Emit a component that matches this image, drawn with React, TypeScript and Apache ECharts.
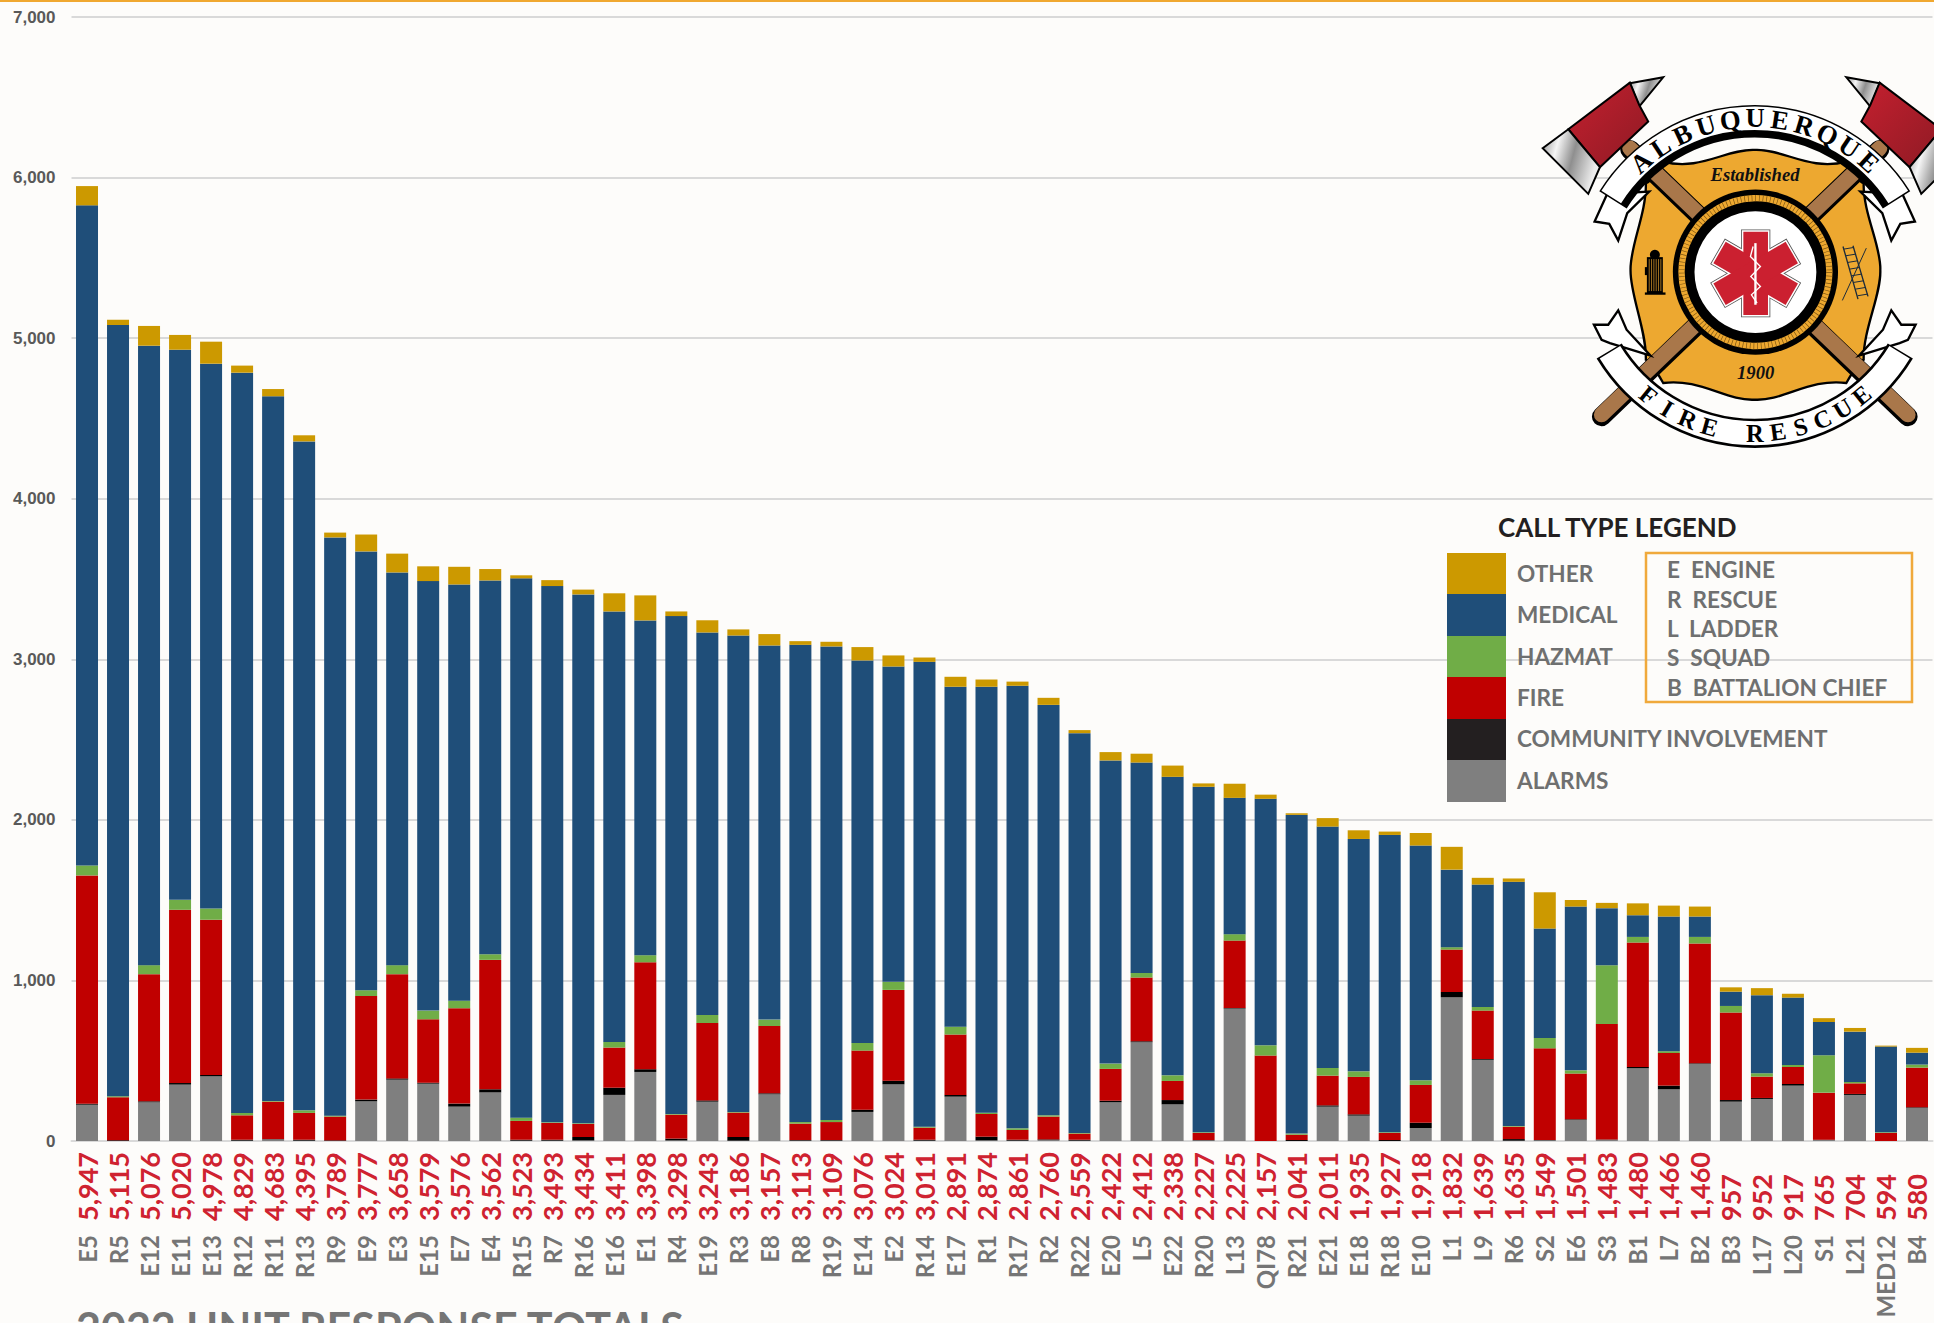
import React, { useEffect, useRef } from "react";
import * as echarts from "echarts";

const units = ["E5","R5","E12","E11","E13","R12","R11","R13","R9","E9","E3","E15","E7","E4","R15","R7","R16","E16","E1","R4","E19","R3","E8","R8","R19","E14","E2","R14","E17","R1","R17","R2","R22","E20","L5","E22","R20","L13","QI78","R21","E21","E18","R18","E10","L1","L9","R6","S2","E6","S3","B1","L7","B2","B3","L17","L20","S1","L21","MED12","B4"];
const totals = ["5,947","5,115","5,076","5,020","4,978","4,829","4,683","4,395","3,789","3,777","3,658","3,579","3,576","3,562","3,523","3,493","3,434","3,411","3,398","3,298","3,243","3,186","3,157","3,113","3,109","3,076","3,024","3,011","2,891","2,874","2,861","2,760","2,559","2,422","2,412","2,338","2,227","2,225","2,157","2,041","2,011","1,935","1,927","1,918","1,832","1,639","1,635","1,549","1,501","1,483","1,480","1,466","1,460","957","952","917","765","704","594","580"];
const alarms = [226,0,241,351,403,2,10,2,0,247,382,357,214,303,2,2,4,287,430,4,245,2,291,2,2,181,353,2,276,4,2,6,2,241,615,228,4,825,0,0,214,158,0,81,895,505,2,4,131,8,453,322,480,245,262,345,6,287,0,206];
const community = [6,4,6,10,8,6,2,6,4,11,8,6,19,19,6,6,21,45,17,11,8,23,6,4,4,14,23,6,11,23,6,4,6,10,6,27,2,4,0,6,8,8,6,33,33,5,10,2,4,2,8,23,4,10,6,10,2,6,0,4];
const fire = [1422,268,792,1079,967,152,233,167,148,645,649,395,594,806,117,104,81,250,666,149,482,152,419,102,112,368,565,75,376,141,61,142,38,198,397,119,44,419,532,33,185,233,44,235,264,302,77,571,285,719,775,203,746,545,133,106,293,66,50,247];
const hazmat = [62,6,56,62,70,15,4,16,6,36,56,54,47,35,20,4,4,35,44,4,50,4,40,10,13,48,50,6,49,8,10,8,4,33,29,35,4,40,64,7,48,35,4,29,15,23,4,65,20,365,35,11,41,41,21,13,233,9,4,19];
const medical = [4111,4804,3858,3426,3393,4610,4389,4166,3601,2733,2446,2675,2592,2328,3359,3340,3294,2681,2085,3101,2382,2967,2330,2972,2949,2382,1964,2895,2117,2653,2756,2556,2490,1888,1310,1859,2152,849,1535,1985,1503,1447,1852,1462,483,762,1521,681,1020,356,135,839,127,89,486,419,207,313,534,74];
const other = [120,33,123,92,137,44,45,38,30,105,117,92,110,71,19,37,30,113,156,29,76,38,71,23,29,83,69,27,62,45,26,44,19,52,55,70,21,88,26,10,53,54,21,78,142,42,21,226,41,33,74,68,62,27,44,24,24,23,6,30];

const callTypes = ["OTHER","MEDICAL","HAZMAT","FIRE","COMMUNITY INVOLVEMENT","ALARMS"];
const callColors = ["#CC9900","#1F4E79","#70AD47","#C00000","#231F20","#7F7F7F"];
const unitKey = ["E  ENGINE","R  RESCUE","L  LADDER","S  SQUAD","B  BATTALION CHIEF"];
const titleText = "2022 UNIT RESPONSE TOTALS";

const ORANGE = "#EDA830";
const BG = "#FDFCFA";
const deg = Math.PI / 180;
const mirror = (p: number[][]) => p.map(([x, y]) => [1410 - x, y]);
const poly = (pts: number[][], fill: any, stroke = "#000", lw = 6) => ({
  type: "polygon", shape: { points: pts }, style: { fill, stroke, lineWidth: lw },
});
const both = (pts: number[][], fill: any, stroke = "#000", lw = 6) => [poly(pts, fill, stroke, lw), poly(mirror(pts), fill, stroke, lw)];

function arcLetters(word: string, cx: number, cy: number, r: number, start: number, step: number, top: boolean, size: number) {
  return word.split("").map((ch, i) => {
    const a = start + step * i;
    return {
      type: "text",
      x: cx + r * Math.sin(a * deg),
      y: top ? cy - r * Math.cos(a * deg) : cy + r * Math.cos(a * deg),
      rotation: (top ? -a : a) * deg,
      style: {
        text: ch, align: "center", verticalAlign: "middle", textAlign: "center", textVerticalAlign: "middle",
        font: `bold ${size}px "Liberation Serif"`, fill: "#000",
      },
    };
  });
}

function buildLogo() {
  const silver = {
    type: "linear", x: 0, y: 0, x2: 1, y2: 0.3,
    colorStops: [{ offset: 0, color: "#8d8d8d" }, { offset: 0.3, color: "#f5f5f5" }, { offset: 0.6, color: "#8f8f8f" }, { offset: 1, color: "#ececec" }],
  };
  const red = { type: "linear", x: 0, y: 0, x2: 1, y2: 1, colorStops: [{ offset: 0, color: "#C4202F" }, { offset: 1, color: "#8E1A24" }] };
  const handle = (x1: number, y1: number, x2: number, y2: number) => [
    { type: "line", shape: { x1, y1: y1 + 4, x2, y2: y2 + 6 }, style: { stroke: "#000", lineWidth: 58, lineCap: "round" } },
    { type: "line", shape: { x1, y1, x2, y2 }, style: { stroke: "#A9774A", lineWidth: 46, lineCap: "round" } },
  ];
  const cx = 707, cy = 667;
  const arms = [0, 60, 120];
  const armRect = (rot: number, style: any) => ({
    type: "rect", x: cx, y: 670, rotation: rot * deg, shape: { x: -37, y: -125, width: 74, height: 250 }, style,
  });
  const ladderRungs = [0, 1, 2, 3, 4, 5, 6, 7].map((i) => ({
    type: "line",
    shape: { x1: 972 + i * 6, y1: 598 + i * 20, x2: 1002 + i * 6, y2: 593 + i * 20 },
    style: { stroke: "#1b2a3a", lineWidth: 3 },
  }));
  const hydrantBars = [0, 1, 2, 3, 4, 5].map((i) => ({
    type: "line", shape: { x1: 388 + i * 7, y1: 628, x2: 388 + i * 7, y2: 724 }, style: { stroke: ORANGE, lineWidth: 2 },
  }));
  const children: any[] = [
    { type: "shield", x: 0, y: 0, style: { fill: ORANGE, stroke: "#000", lineWidth: 7 } },
    ...handle(330, 295, 1165, 1095),
    ...handle(1080, 295, 245, 1095),
    ...both([[330, 100], [430, 82], [358, 170]], silver),
    ...both([[145, 238], [330, 98], [358, 165], [385, 215], [240, 352]], red),
    ...both([[68, 295], [145, 238], [240, 352], [205, 432]], silver),
    { type: "circle", shape: { cx, cy, r: 248 }, style: { fill: "#000" } },
    { type: "circle", shape: { cx, cy, r: 222 }, style: { fill: "none", stroke: ORANGE, lineWidth: 19 } },
    { type: "circle", shape: { cx, cy, r: 222 }, style: { fill: "none", stroke: "#7a5310", lineWidth: 19, lineDash: [2, 9] } },
    { type: "circle", shape: { cx, cy, r: 183 }, style: { fill: "#fff" } },
    ...arms.map((r) => armRect(r, { fill: "#555", stroke: "#555", lineWidth: 14 })),
    ...arms.map((r) => armRect(r, { fill: "#fff", stroke: "#fff", lineWidth: 9 })),
    ...arms.map((r) => armRect(r, { fill: "#CB2030" })),
    { type: "line", shape: { x1: 707, y1: 580, x2: 707, y2: 765 }, style: { stroke: "#fff", lineWidth: 7 } },
    { type: "polyline", shape: { points: [[700, 590], [692, 620], [722, 650], [693, 680], [722, 710], [695, 735], [712, 760]] }, style: { stroke: "#fff", lineWidth: 4, fill: "none" } },
    { type: "rect", shape: { x: 381, y: 622, width: 48, height: 108 }, style: { fill: "#000" } },
    { type: "circle", shape: { cx: 405, cy: 615, r: 15 }, style: { fill: "#000" } },
    { type: "rect", shape: { x: 375, y: 652, width: 10, height: 24 }, style: { fill: "#000" } },
    { type: "rect", shape: { x: 375, y: 728, width: 62, height: 7 }, style: { fill: "#000" } },
    ...hydrantBars,
    { type: "line", shape: { x1: 970, y1: 590, x2: 1015, y2: 748 }, style: { stroke: "#1b2a3a", lineWidth: 4 } },
    { type: "line", shape: { x1: 1000, y1: 588, x2: 1045, y2: 740 }, style: { stroke: "#1b2a3a", lineWidth: 4 } },
    { type: "line", shape: { x1: 968, y1: 752, x2: 1040, y2: 595 }, style: { stroke: "#1b2a3a", lineWidth: 3 } },
    ...ladderRungs,
    { type: "text", x: 705, y: 374, style: { text: "Established", align: "center", verticalAlign: "middle", textAlign: "center", textVerticalAlign: "middle", font: 'italic bold 56px "Liberation Serif"', fill: "#111" } },
    { type: "text", x: 707, y: 968, style: { text: "1900", align: "center", verticalAlign: "middle", textAlign: "center", textVerticalAlign: "middle", font: 'italic bold 56px "Liberation Serif"', fill: "#111" } },
    ...both([[262, 432], [224, 515], [268, 522], [295, 572], [322, 490], [388, 425]], "#fff", "#000", 7),
    ...both([[222, 825], [265, 825], [295, 782], [320, 840], [392, 918], [270, 880], [245, 870]], "#fff", "#000", 7),
    { type: "arc", shape: { cx: 705, cy: 716, r: 502, startAngle: -148 * deg, endAngle: -32 * deg }, style: { fill: "none", stroke: "#000", lineWidth: 97 } },
    { type: "arc", shape: { cx: 705, cy: 716, r: 511, startAngle: -147.5 * deg, endAngle: -32.5 * deg }, style: { fill: "none", stroke: "#fff", lineWidth: 70 } },
    { type: "arc", shape: { cx: 705, cy: 641, r: 510, startAngle: 31 * deg, endAngle: 149 * deg }, style: { fill: "none", stroke: "#000", lineWidth: 88 } },
    { type: "arc", shape: { cx: 705, cy: 641, r: 510, startAngle: 31.5 * deg, endAngle: 148.5 * deg }, style: { fill: "none", stroke: "#fff", lineWidth: 72 } },
    ...arcLetters("ALBUQUERQUE", 705, 716, 511, -42, 8.4, true, 80),
    ...arcLetters("FIRE RESCUE", 705, 641, 508, -39, 7.8, false, 74),
  ];
  return {
    type: "group", x: 1520, y: 50, scaleX: 1 / 3, scaleY: 1 / 3,
    children: children.map((c) => ({ ...c, z: 100 })),
  };
}

function buildLegend() {
  const swatchY = [553, 594, 636, 677, 719, 760];
  const swatchH = [41, 42, 41, 42, 41, 42];
  const rowY = [573, 614, 656, 697, 738, 780];
  const keyY = [569, 599, 628, 657, 687];
  const labelFont = 'bold 22.6px Lato, "Open Sans", sans-serif';
  return [
    { type: "text", z: 100, x: 1498, y: 527, style: { text: "CALL TYPE LEGEND", align: "left", verticalAlign: "middle", textAlign: "left", textVerticalAlign: "middle", font: 'bold 26px Lato, sans-serif', fill: "#231F20" } },
    ...callTypes.map((t, i) => ({ type: "rect", z: 100, shape: { x: 1447, y: swatchY[i], width: 59, height: swatchH[i] }, style: { fill: callColors[i] } })),
    ...callTypes.map((t, i) => ({ type: "text", z: 100, x: 1517, y: rowY[i], style: { text: t, align: "left", verticalAlign: "middle", textAlign: "left", textVerticalAlign: "middle", font: labelFont, fill: "#6F7070" } })),
    { type: "rect", z: 100, shape: { x: 1646, y: 553, width: 266, height: 149 }, style: { fill: "none", stroke: "#F0A93B", lineWidth: 2.5 } },
    ...unitKey.map((t, i) => ({ type: "text", z: 100, x: 1667, y: keyY[i], style: { text: t, align: "left", verticalAlign: "middle", textAlign: "left", textVerticalAlign: "middle", font: labelFont, fill: "#6F7070" } })),
  ];
}

const shieldPath = "M430 335 C540 365 620 296 705 300 C790 296 870 365 980 335 C1000 370 1020 395 1032 400 C1030 490 1085 590 1082 660 C1085 735 1030 840 1032 930 C1020 935 1000 965 980 1000 C870 985 790 1055 705 1050 C620 1055 540 985 430 1000 C410 965 390 935 378 930 C380 840 330 735 332 660 C330 590 380 490 378 400 C390 395 410 370 430 335 Z";

export default function App() {
  const ref = useRef<HTMLDivElement>(null);
  useEffect(() => {
    echarts.graphic.registerShape("shield", echarts.graphic.extendPath(shieldPath as any, {}) as any);
    const chart = echarts.init(ref.current!, undefined, { renderer: "svg" });
    const seriesRows: [string, number[], string][] = [
      ["ALARMS", alarms, "#7F7F7F"],
      ["COMMUNITY INVOLVEMENT", community, "#000000"],
      ["FIRE", fire, "#C00000"],
      ["HAZMAT", hazmat, "#70AD47"],
      ["MEDICAL", medical, "#1F4E79"],
      ["OTHER", other, "#CC9900"],
    ];
    chart.setOption({
      animation: false,
      backgroundColor: BG,
      grid: { left: 71.5, right: 1.5, top: 17, bottom: 182, containLabel: false, outerBoundsMode: "none" },
      xAxis: [
        {
          type: "category", data: units, position: "bottom",
          axisLine: { show: true, lineStyle: { color: "#D9D9D9", width: 2 } },
          axisTick: { show: false },
          axisLabel: { interval: 0, rotate: 90, margin: 94, color: "#757575", fontSize: 24, fontWeight: "bold", fontFamily: 'Lato, sans-serif' },
        },
        {
          type: "category", data: totals, position: "bottom",
          axisLine: { show: false }, axisTick: { show: false },
          axisLabel: { interval: 0, rotate: 90, align: "left", margin: 80, color: "#CF2230", fontSize: 27, fontWeight: "bold", fontFamily: 'Lato, sans-serif' },
        },
      ],
      yAxis: {
        type: "value", min: 0, max: 7000, interval: 1000,
        axisLine: { show: false }, axisTick: { show: false },
        splitLine: { lineStyle: { color: "#D9D9D9", width: 2 } },
        axisLabel: {
          margin: 16, color: "#595959", fontSize: 17, fontWeight: "bold", fontFamily: '"Liberation Sans", sans-serif',
          formatter: (v: number) => v.toLocaleString("en-US"),
        },
      },
      series: seriesRows.map(([name, data, color]) => ({
        name, type: "bar", stack: "total", data, barWidth: 22, xAxisIndex: 0,
        itemStyle: { color }, silent: true,
      })),
      graphic: { elements: [
        { type: "rect", shape: { x: 0, y: 0, width: 1934, height: 2 }, style: { fill: "#F0A830" }, z: 100 },
        buildLogo(),
        ...buildLegend(),
        { type: "text", z: 100, x: 76, y: 1306, style: { text: titleText, align: "left", verticalAlign: "top", textAlign: "left", textVerticalAlign: "top", font: 'bold 43px Lato, sans-serif', fill: "#757575" } },
      ] },
    });
    return () => chart.dispose();
  }, []);
  return <div ref={ref} style={{ position: "absolute", left: 0, top: 0, width: 1934, height: 1323 }} />;
}
